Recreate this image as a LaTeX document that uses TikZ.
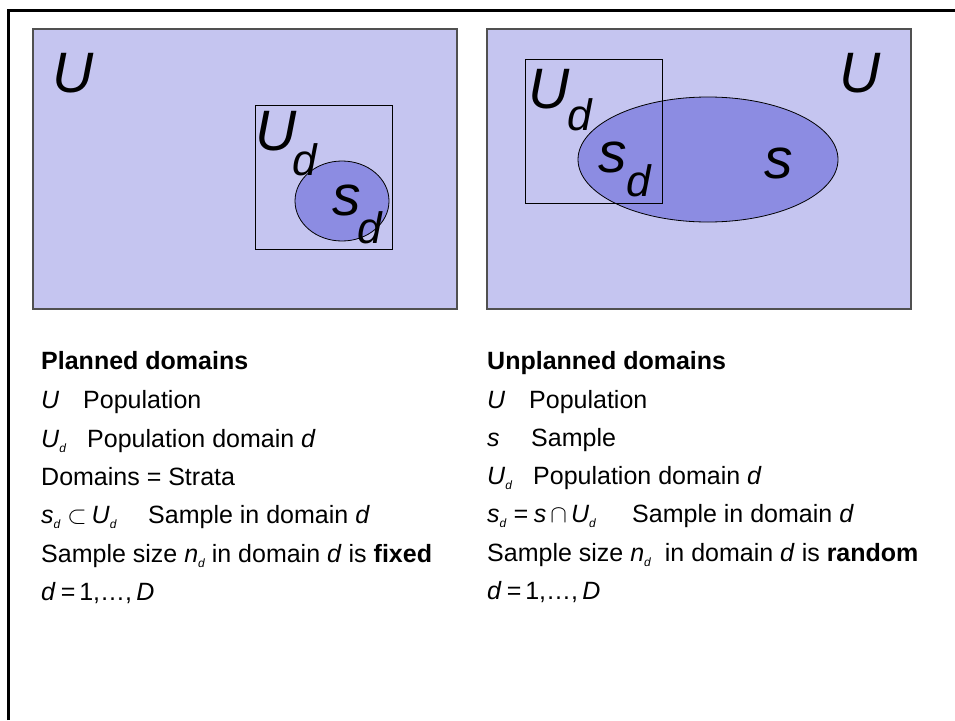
\documentclass[tikz,border=0pt]{standalone}
\usepackage{fontspec}
\setmainfont{Liberation Sans}
\definecolor{lightlav}{RGB}{197,197,240}
\definecolor{darklav}{RGB}{140,140,226}
\definecolor{panelgray}{RGB}{80,80,80}
\newcommand\sbd{\raisebox{-5pt}{\fontsize{12}{12}\selectfont\itshape d}}
\begin{document}
\begin{tikzpicture}[x=1pt,y=-1pt]
\useasboundingbox (0,0) rectangle (955,720);
\tikzset{
  panel/.style={fill=lightlav, draw=panelgray, line width=1.2pt},
  dom/.style={draw=black, line width=0.8pt},
  samp/.style={fill=darklav, draw=black, line width=0.8pt},
  big/.style={font=\fontsize{57}{57}\selectfont\itshape, inner sep=0pt, anchor=base west},
  bigsub/.style={font=\fontsize{44}{44}\selectfont\itshape, inner sep=0pt, anchor=base west},
  txt/.style={font=\fontsize{25}{25}\selectfont, inner sep=0pt, anchor=base west}
}
% frame
\draw[line width=3pt] (8,720) -- (8,10) -- (955,10);
% left panel
\draw[panel] (33,29) rectangle (457,309);
\draw[dom] (255,105) rectangle (392,249);
\draw[samp] (342,201) ellipse [x radius=47, y radius=40];
\node[big] (lU) at (52,92) {U};
\node[big] (lUd) at (255,150) {U};
\node[bigsub] (lUdd) at (292,175) {d};
\node[big] (lsd) at (332,215) {s};
\node[bigsub] (lsdd) at (357,243) {d};
% right panel
\draw[panel] (487,29) rectangle (911,309);
\draw[samp] (708,159.5) ellipse [x radius=130, y radius=62.5];
\draw[dom] (525,59) rectangle (662,203);
\node[big] (rU) at (839,92) {U};
\node[big] (rUd) at (528,108) {U};
\node[bigsub] (rUdd) at (567,130) {d};
\node[big] (rsd) at (598,172) {s};
\node[bigsub] (rsdd) at (626,196) {d};
\node[big] (rs) at (764,178) {s};
% left text
\node[txt] (l1) at (41,369) {\textbf{Planned domains}};
\node[txt] (l2) at (41,408) {\makebox[42pt][l]{\itshape U}Population};
\node[txt] (l3) at (41,447) {\makebox[46pt][l]{\itshape U\sbd}Population domain \textit{d}};
\node[txt] (l4) at (41,485) {Domains = Strata};
\node[txt] (l5) at (41,523) {\makebox[107pt][l]{\itshape s\sbd\hspace{7pt}$\subset$\hspace{5pt}U\sbd}Sample in domain \textit{d}};
\node[txt] (l6) at (41,562) {Sample size \textit{n}\sbd{} in domain \textit{d} is \textbf{fixed}};
\node[txt] (l7) at (41,600) {\textit{d}\hspace{5pt}=\hspace{4pt}1,\ldots,\,\textit{D}};
% right text
\node[txt] (r1) at (487,369) {\textbf{Unplanned domains}};
\node[txt] (r2) at (487,408) {\makebox[42pt][l]{\itshape U}Population};
\node[txt] (r3) at (487,446) {\makebox[44pt][l]{\itshape s}Sample};
\node[txt] (r4) at (487,484) {\makebox[46pt][l]{\itshape U\sbd}Population domain \textit{d}};
\node[txt] (r5) at (487,522) {\makebox[145pt][l]{\itshape s\sbd\hspace{7pt}=\hspace{6pt}s\hspace{4pt}$\cap$\hspace{4pt}U\sbd}Sample in domain \textit{d}};
\node[txt] (r6) at (487,561) {Sample size \textit{n}\sbd\hspace{14pt}in domain \textit{d} is \textbf{random}};
\node[txt] (r7) at (487,599) {\textit{d}\hspace{5pt}=\hspace{4pt}1,\ldots,\,\textit{D}};
\end{tikzpicture}
\end{document}
